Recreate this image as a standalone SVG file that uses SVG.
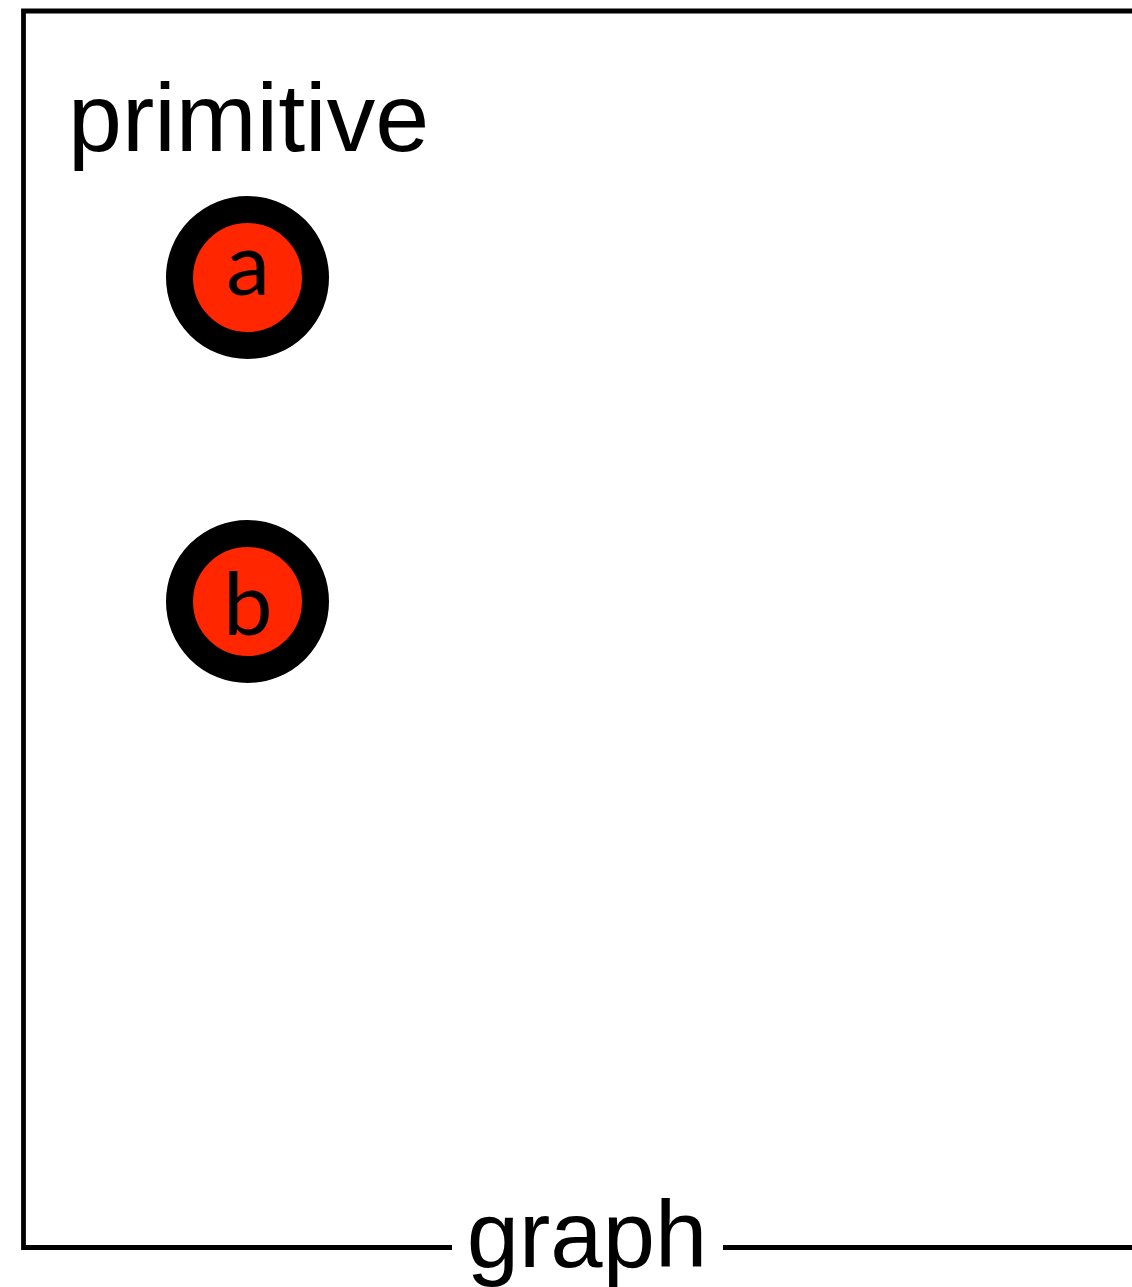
<svg xmlns="http://www.w3.org/2000/svg" width="1132" height="1287" viewBox="0 0 1132 1287">
  <style>
    .frame { fill: none; stroke: #000; stroke-width: 4.8; }
    .label { font-family: "Liberation Sans", Arial, sans-serif; font-size: 96px; fill: #000; }
    .node circle { fill: #FF2600; stroke: #000; stroke-width: 27; }
    .node text { font-family: Lato, "Liberation Sans", sans-serif; font-size: 88px; fill: #000; text-anchor: middle; }
  </style>
  <rect width="1132" height="1287" fill="#fff"/>
  <g id="graph">
    <path class="frame" d="M452,1247.5 H23.5 V11 H1136"/>
    <path class="frame" d="M723,1247.5 H1136"/>
    <text class="label" x="587" y="1267" text-anchor="middle" style="font-size:94px">graph</text>
  </g>
  <g id="primitive">
    <text class="label" x="68" y="151" style="font-size:97px">primitive</text>
  </g>
  <g id="node-a" class="node">
    <circle cx="247.5" cy="277.5" r="68"/>
    <text x="248" y="295">a</text>
  </g>
  <g id="node-b" class="node">
    <circle cx="247.5" cy="601.5" r="68"/>
    <text x="248" y="635">b</text>
  </g>
  <g id="connectors"></g>
</svg>
